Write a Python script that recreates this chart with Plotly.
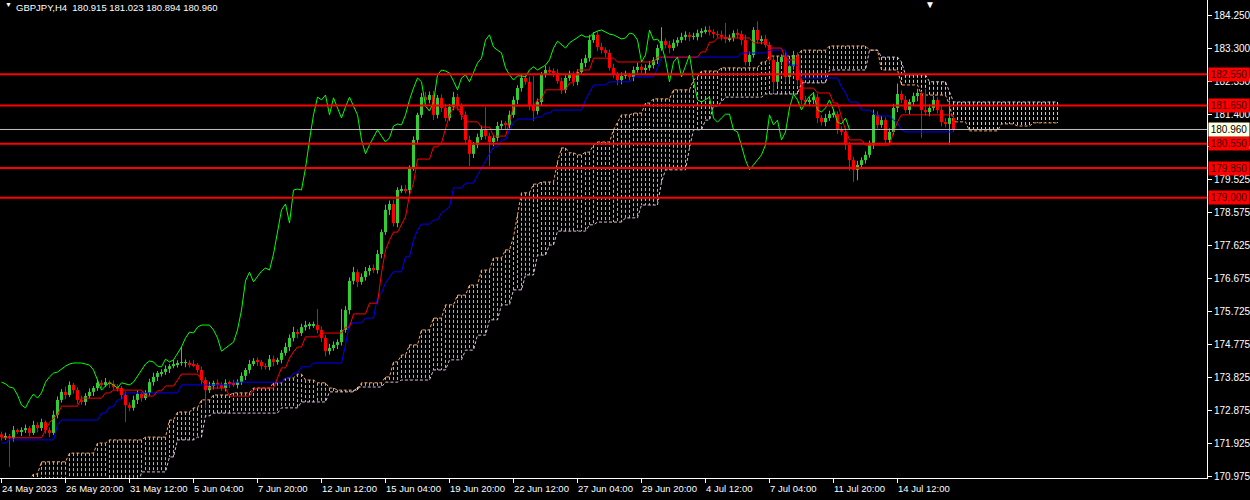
import plotly.graph_objects as go

# ---------------- data ----------------
closes = [
172.12,172.15,172.09,172.32,172.27,172.32,172.38,172.24,172.47,172.38,
172.55,172.32,172.24,172.76,173.19,173.42,173.33,173.62,173.47,173.19,
173.13,173.30,173.42,173.53,173.68,173.62,173.70,173.65,173.56,173.53,
173.33,173.04,172.96,173.19,173.36,173.24,173.39,173.70,173.85,173.96,
173.99,174.08,174.16,174.22,174.25,174.25,174.25,174.22,174.19,174.05,
173.76,173.47,173.59,173.68,173.62,173.53,173.68,173.65,173.62,173.70,
173.88,174.05,174.22,174.31,174.28,174.16,174.14,174.36,174.28,174.34,
174.54,174.71,174.97,175.14,175.11,175.28,175.34,175.34,175.34,175.20,
174.97,174.59,174.68,174.77,174.85,175.20,175.77,176.61,176.86,176.58,
176.72,176.89,176.98,176.92,177.38,178.01,178.65,178.82,178.27,179.22,
179.25,179.22,179.85,180.66,181.38,181.89,181.81,181.95,181.38,181.87,
181.58,181.29,181.61,181.89,181.63,181.38,180.66,180.26,180.52,180.74,
180.95,180.77,180.60,180.72,181.06,181.12,181.09,181.38,181.81,182.15,
182.44,182.33,181.63,181.49,181.75,182.53,182.67,182.64,182.58,182.35,
182.10,182.44,182.53,182.33,182.61,182.87,183.01,183.53,183.68,183.33,
183.24,183.16,182.73,182.53,182.38,182.50,182.50,182.47,182.67,182.76,
182.67,182.73,182.81,182.96,183.30,183.50,183.39,183.30,183.45,183.53,
183.62,183.68,183.62,183.62,183.73,183.79,183.82,183.76,183.70,183.68,
183.62,183.56,183.59,183.73,183.70,183.53,182.90,183.10,183.82,183.53,
183.56,183.39,182.96,182.33,182.90,183.04,182.47,182.78,183.10,182.38,
181.81,181.75,181.81,181.89,181.29,181.17,181.29,181.40,181.40,180.95,
180.89,180.52,180.08,179.80,179.94,180.08,180.23,180.52,181.38,181.09,
181.23,180.66,180.89,181.58,181.98,181.81,181.52,181.75,181.92,182.01,
181.52,181.46,181.58,181.81,181.52,181.17,181.12,181.29,180.96]
first_open = 172.20

wick_up = [
0.08,0.10,0.06,0.12,0.05,0.08,0.10,0.06,0.12,0.08,
0.10,0.05,0.08,0.12,0.10,0.08,0.15,0.10,0.06,0.08,
0.12,0.08,0.10,0.06,0.10,0.08,0.12,0.05,0.10,0.08,
0.06,0.10,0.08,0.12,0.10,0.05,0.08,0.10,0.12,0.06,
0.08,0.10,0.06,0.12,0.08,0.46,0.10,0.08,0.12,0.06,
0.10,0.08,0.12,0.06,0.10,0.08,0.10,0.06,0.12,0.08,
0.10,0.06,0.12,0.08,0.10,0.06,0.08,0.12,0.10,0.06,
0.08,0.12,0.10,0.15,0.08,0.10,0.12,0.08,0.10,0.46,
0.10,0.08,0.12,0.10,0.08,0.60,0.12,0.10,0.15,0.08,
0.10,0.12,0.08,0.10,0.12,0.08,0.15,0.10,0.12,0.08,
0.10,0.12,0.08,0.10,0.06,0.12,0.15,0.10,0.12,0.08,
0.10,0.12,0.08,0.15,0.10,0.08,0.10,0.12,0.08,0.10,
0.12,0.65,0.10,0.08,0.12,0.10,0.08,0.12,0.10,0.08,
0.10,0.12,0.15,0.87,0.10,0.08,0.12,0.10,0.08,0.12,
0.10,0.08,0.12,0.10,0.08,0.12,0.10,0.15,0.08,0.10,
0.12,0.08,0.10,0.12,0.08,0.10,0.15,0.08,0.10,0.12,
0.08,0.10,0.12,0.08,0.10,0.40,0.08,0.12,0.10,0.08,
0.12,0.10,0.08,0.12,0.10,0.08,0.10,0.12,0.08,0.10,
0.12,0.40,0.10,0.08,0.12,0.10,0.15,0.10,0.08,0.25,
0.10,0.12,0.08,0.10,0.12,0.08,0.15,0.10,0.12,0.08,
0.10,0.12,0.08,0.15,0.10,0.08,0.12,0.10,0.15,0.08,
0.10,0.12,0.08,0.10,0.12,0.08,0.10,0.12,0.15,0.10,
0.12,0.08,0.10,0.12,0.30,0.10,0.12,0.08,0.10,0.12,
0.05,0.60,0.10,0.12,0.08,0.10,0.12,0.50,0.06]

wick_dn = [
0.10,0.08,0.83,0.10,0.06,0.12,0.08,0.10,0.06,0.12,
0.08,0.10,0.12,0.06,0.10,0.08,0.12,0.06,0.10,0.12,
0.08,0.10,0.06,0.12,0.08,0.10,0.06,0.12,0.08,0.10,
0.12,0.49,0.10,0.08,0.12,0.10,0.06,0.08,0.10,0.12,
0.10,0.08,0.12,0.06,0.10,0.08,0.12,0.10,0.06,0.08,
0.12,0.52,0.08,0.10,0.12,0.08,0.10,0.12,0.06,0.10,
0.08,0.12,0.10,0.06,0.12,0.10,0.08,0.10,0.12,0.08,
0.10,0.08,0.12,0.10,0.15,0.08,0.10,0.12,0.08,0.10,
0.12,0.15,0.10,0.08,0.12,0.10,0.08,0.12,0.10,0.15,
0.08,0.10,0.12,0.08,0.10,0.12,0.08,0.15,0.10,0.12,
0.08,0.10,0.12,0.08,0.10,0.08,0.12,0.10,0.15,0.10,
0.12,0.10,0.08,0.10,0.12,0.15,0.10,0.36,0.12,0.10,
0.08,0.10,0.70,0.12,0.10,0.08,0.12,0.10,0.08,0.12,
0.10,0.08,0.12,0.29,0.10,0.12,0.08,0.10,0.12,0.08,
0.12,0.10,0.08,0.12,0.10,0.08,0.12,0.10,0.08,0.12,
0.10,0.12,0.08,0.10,0.15,0.12,0.08,0.10,0.12,0.08,
0.10,0.12,0.08,0.10,0.12,0.08,0.10,0.15,0.08,0.10,
0.08,0.10,0.12,0.08,0.10,0.12,0.08,0.10,0.12,0.08,
0.10,0.12,0.08,0.10,0.12,0.15,0.10,0.12,0.08,0.10,
0.12,0.08,0.10,0.33,0.12,0.10,0.15,0.12,0.10,0.15,
0.12,0.10,0.08,0.12,0.15,0.10,0.12,0.08,0.10,0.12,
0.10,0.15,0.30,0.35,0.30,0.12,0.10,0.08,0.12,0.10,
0.08,0.12,0.10,0.08,0.12,0.10,0.08,0.12,0.10,0.15,
0.80,0.10,0.12,0.08,0.10,0.12,0.10,0.60,0.06]

tenkan = [
172.10,172.10,172.10,172.10,172.10,172.10,172.10,172.10,172.10,172.10,
172.10,172.33,172.53,172.67,172.76,173.01,173.01,173.01,173.01,173.01,
173.24,173.24,173.24,173.24,173.24,173.24,173.39,173.39,173.47,173.47,
173.47,173.47,173.47,173.47,173.47,173.47,173.30,173.30,173.30,173.45,
173.45,173.59,173.59,173.59,173.76,173.93,173.93,173.93,173.93,173.93,
173.76,173.62,173.53,173.53,173.53,173.53,173.53,173.30,173.30,173.30,
173.30,173.30,173.30,173.47,173.53,173.53,173.53,173.53,173.53,173.82,
174.11,174.11,174.39,174.57,174.71,174.71,175.00,175.00,175.00,175.00,
175.11,175.11,175.11,175.11,175.11,175.11,175.28,175.28,175.66,175.66,
175.66,175.66,175.97,175.97,175.97,176.84,177.50,177.78,178.01,178.01,
178.22,178.45,179.08,179.42,180.11,180.11,180.11,180.11,180.46,180.46,
180.57,180.95,181.38,181.58,181.58,181.38,181.18,181.18,181.18,181.18,
181.03,181.03,181.03,180.77,180.77,180.77,180.77,181.18,181.64,181.64,
181.64,181.64,181.64,181.64,181.81,181.81,182.10,182.10,182.10,182.10,
182.10,182.10,182.30,182.30,182.67,182.67,182.67,182.67,183.01,183.01,
183.01,183.01,183.01,183.01,182.90,182.90,182.90,182.90,182.90,182.90,
182.90,182.90,182.90,182.90,183.04,183.04,183.04,183.04,183.04,183.04,
183.04,183.04,183.04,183.04,183.04,183.19,183.19,183.47,183.47,183.59,
183.59,183.59,183.59,183.59,183.59,183.59,183.59,183.59,183.45,183.45,
183.45,183.45,183.30,183.30,183.30,183.30,182.96,182.96,182.96,182.96,
182.15,182.15,182.15,182.15,182.01,182.01,182.01,182.01,181.72,181.72,
181.32,180.95,180.66,180.66,180.66,180.66,180.51,180.51,180.51,180.51,
180.51,180.51,180.51,180.89,181.18,181.38,181.38,181.38,181.38,181.38,
181.38,181.38,181.38,181.38,181.38,181.38,181.38,181.38,181.38]

kijun = [
171.95,171.95,172.04,172.04,172.04,172.04,172.04,172.04,172.04,172.04,
172.04,172.04,172.04,172.04,172.47,172.61,172.61,172.61,172.61,172.61,
172.61,172.61,172.61,172.61,172.61,172.81,172.81,172.99,172.99,173.19,
173.19,173.39,173.39,173.39,173.39,173.39,173.39,173.39,173.39,173.39,
173.39,173.39,173.39,173.39,173.39,173.62,173.62,173.62,173.62,173.62,
173.62,173.62,173.62,173.62,173.62,173.62,173.62,173.62,173.70,173.70,
173.70,173.70,173.70,173.70,173.70,173.70,173.70,173.70,173.70,173.70,
173.70,173.82,173.82,173.96,173.96,174.14,174.14,174.14,174.25,174.25,
174.25,174.25,174.25,174.25,174.25,174.25,174.77,175.40,175.40,175.40,
175.40,175.54,175.54,175.54,176.15,176.26,176.55,176.72,176.87,176.87,
176.87,177.30,177.30,177.78,178.07,178.24,178.24,178.24,178.36,178.36,
178.56,178.65,178.73,179.28,179.28,179.28,179.42,179.42,179.42,179.65,
179.85,180.08,180.28,180.46,180.46,180.66,180.66,180.95,181.15,181.26,
181.26,181.26,181.26,181.26,181.32,181.32,181.43,181.43,181.52,181.52,
181.52,181.52,181.52,181.52,181.52,181.52,181.81,182.01,182.24,182.24,
182.24,182.24,182.33,182.33,182.33,182.33,182.33,182.33,182.47,182.47,
182.47,182.47,182.47,182.47,182.73,183.04,183.04,183.04,183.04,183.04,
183.04,183.04,183.04,183.04,183.04,183.04,183.04,183.04,183.04,183.04,
183.04,183.04,183.04,183.04,183.04,183.16,183.16,183.16,183.16,183.16,
183.16,183.16,183.24,183.24,183.24,183.24,183.24,182.81,182.81,182.81,
182.44,182.44,182.44,182.44,182.44,182.44,182.44,182.44,182.44,182.44,
182.18,182.01,181.75,181.75,181.75,181.52,181.52,181.52,181.43,181.35,
181.35,181.35,181.35,181.23,181.15,180.95,180.89,180.89,180.89,180.89,
180.89,180.89,180.89,180.89,180.89,180.89,180.89,180.89,180.89]

span_a = [
170.74,170.74,170.74,170.74,170.74,170.74,170.89,170.89,171.06,171.06,
171.41,171.41,171.41,171.41,171.41,171.41,171.41,171.66,171.66,171.66,
171.66,171.66,171.66,171.66,171.95,171.95,171.95,172.04,172.04,172.04,
172.04,172.04,172.04,172.04,172.04,172.04,172.12,172.12,172.12,172.12,
172.12,172.12,172.61,172.61,172.84,172.84,172.84,172.84,172.96,172.96,
173.19,173.19,173.19,173.33,173.33,173.33,173.33,173.33,173.39,173.39,
173.39,173.39,173.39,173.53,173.53,173.53,173.53,173.53,173.68,173.68,
173.68,173.82,173.82,173.82,173.93,173.93,173.76,173.76,173.76,173.68,
173.68,173.68,173.53,173.53,173.47,173.47,173.47,173.47,173.47,173.47,
173.68,173.68,173.68,173.68,173.68,173.68,173.85,173.85,174.28,174.28,
174.48,174.48,174.77,174.77,174.77,175.20,175.20,175.20,175.54,175.54,
175.54,175.92,175.92,175.92,176.20,176.20,176.20,176.49,176.49,176.49,
176.92,176.92,176.92,177.27,177.27,177.27,177.50,177.50,177.87,178.50,
179.14,179.14,179.14,179.39,179.39,179.45,179.45,179.45,179.45,180.03,
180.43,180.43,180.29,180.29,180.23,180.23,180.31,180.31,180.51,180.60,
180.60,180.60,180.60,180.95,181.15,181.38,181.38,181.38,181.43,181.43,
181.43,181.72,181.72,181.84,181.84,181.84,181.84,181.84,182.10,182.10,
182.10,182.10,182.10,182.38,182.47,182.64,182.64,182.64,182.64,182.64,
182.73,182.73,182.73,182.73,182.73,182.73,182.73,182.73,182.73,182.73,
182.90,182.90,183.07,183.07,183.07,183.07,183.07,183.07,183.07,183.07,
183.24,183.24,183.24,183.24,183.24,183.24,183.24,183.36,183.36,183.36,
183.36,183.36,183.36,183.36,183.36,183.36,183.36,183.24,183.24,183.24,
182.67,182.67,182.67,182.67,182.67,182.24,182.24,182.24,182.24,182.24,
181.95,181.95,181.95,181.95,181.95,181.95,181.95,181.66,181.18,181.18,
181.18,181.18,180.92,180.92,180.92,180.92,180.92,180.92,180.92,180.92,
181.12,181.12,181.12,181.12,181.06,181.06,181.06,181.06,181.15,181.15,
181.15,181.15,181.15,181.15,181.15]

span_b = [
170.60,170.60,170.60,170.60,170.60,170.60,170.60,170.60,170.60,170.60,
170.60,170.60,170.60,170.60,170.60,170.60,170.60,170.60,170.60,170.60,
170.60,170.60,170.60,170.60,170.60,170.60,170.60,170.60,170.60,170.60,
170.60,170.60,170.60,170.60,170.60,171.12,171.12,171.12,171.12,171.12,
171.12,171.12,171.55,171.55,172.04,172.04,172.04,172.04,172.04,172.12,
172.12,172.73,172.73,172.81,172.81,172.81,172.81,172.81,172.81,172.81,
172.81,172.81,172.81,172.81,172.81,172.81,172.81,172.81,172.81,172.81,
172.96,172.96,172.96,172.96,172.96,173.13,173.13,173.13,173.13,173.13,
173.13,173.13,173.42,173.42,173.42,173.42,173.42,173.42,173.42,173.56,
173.56,173.56,173.56,173.56,173.56,173.56,173.70,173.70,173.70,173.70,
173.76,173.76,173.76,173.76,173.76,173.76,173.76,173.76,174.05,174.05,
174.05,174.05,174.34,174.34,174.34,174.34,174.62,174.62,174.62,175.05,
175.05,175.05,175.49,175.49,175.49,175.92,175.92,175.92,176.35,176.35,
176.35,176.78,176.78,176.78,177.35,177.35,177.35,177.64,177.64,178.04,
178.04,178.04,178.04,178.04,178.04,178.04,178.04,178.22,178.22,178.30,
178.30,178.30,178.30,178.30,178.30,178.30,178.42,178.42,178.42,178.42,
178.79,178.79,178.79,178.79,178.79,179.45,179.80,179.80,179.80,179.80,
179.80,179.80,180.43,180.95,180.95,180.95,181.23,181.23,181.64,181.64,
181.75,181.89,181.89,181.89,181.89,181.89,181.89,181.89,181.89,181.89,
181.89,181.98,181.98,181.98,181.98,181.98,181.98,181.98,181.98,181.98,
182.30,182.30,182.30,182.30,182.30,182.30,182.30,182.67,182.67,182.67,
182.67,182.67,182.67,182.67,182.67,182.67,182.67,183.24,183.24,183.24,
183.04,183.04,183.04,183.04,183.04,182.90,182.53,182.53,182.53,182.53,
182.53,182.53,182.33,182.33,182.33,182.33,182.33,182.04,181.75,181.75,
181.75,181.75,181.75,181.75,181.75,181.75,181.75,181.75,181.75,181.75,
181.75,181.75,181.75,181.75,181.75,181.75,181.75,181.75,181.75,181.75,
181.75,181.75,181.75,181.75,181.75]

levels = [182.55, 181.65, 180.55, 179.85, 179.00]
last_price = 180.96
y_ticks = [184.25, 183.30, 182.35, 181.40, 180.475, 179.525, 178.575, 177.625,
           176.675, 175.725, 174.775, 173.825, 172.875, 171.925, 170.975]
x_tick_bars = [0, 16, 32, 48, 64, 80, 96, 112, 128, 144, 160, 176, 192, 208, 224]
x_tick_labels = ["24 May 2023", "26 May 20:00", "31 May 12:00", "5 Jun 04:00",
                 "7 Jun 20:00", "12 Jun 12:00", "15 Jun 04:00", "19 Jun 20:00",
                 "22 Jun 12:00", "27 Jun 04:00", "29 Jun 20:00", "4 Jul 12:00",
                 "7 Jul 04:00", "11 Jul 20:00", "14 Jul 12:00"]
title_text = "GBPJPY,H4  180.915 181.023 180.894 180.960"
chikou_shift = 26

# ---------------- styling ----------------
BULL = "#32cd32"
BEAR = "#ff0000"
CHIKOU = "#00ff00"
TENKAN = "#ff0000"
KIJUN = "#0000ff"
SPAN_A = "#f4a460"
SPAN_B = "#d8bfd8"
FONT = "Liberation Sans, Arial, sans-serif"

n = len(closes)
bars = list(range(n))
opens = [first_open] + closes[:-1]
highs = [max(o, c) + u for o, c, u in zip(opens, closes, wick_up)]
lows = [min(o, c) - d for o, c, d in zip(opens, closes, wick_dn)]

fig = go.Figure()

# cloud hatching: one dotted vertical stroke per bar between the two spans
up_x, up_y, dn_x, dn_y = [], [], [], []
for i in range(len(span_a)):
    top = max(span_a[i], span_b[i])
    bot = min(span_a[i], span_b[i])
    if span_a[i] >= span_b[i]:
        up_x.extend([i, i, None]); up_y.extend([top, bot, None])
    else:
        dn_x.extend([i, i, None]); dn_y.extend([top, bot, None])
fig.add_trace(go.Scatter(x=up_x, y=up_y, mode="lines", connectgaps=False,
                         line=dict(color=SPAN_A, width=1, dash="3px,2px", simplify=False),
                         hoverinfo="skip"))
fig.add_trace(go.Scatter(x=dn_x, y=dn_y, mode="lines", connectgaps=False,
                         line=dict(color=SPAN_B, width=1, dash="3px,2px", simplify=False),
                         hoverinfo="skip"))
span_x = list(range(len(span_a)))
fig.add_trace(go.Scatter(x=span_x, y=span_a, mode="lines",
                         line=dict(color=SPAN_A, width=1, dash="3px,2px"), hoverinfo="skip"))
fig.add_trace(go.Scatter(x=span_x, y=span_b, mode="lines",
                         line=dict(color=SPAN_B, width=1, dash="3px,2px"), hoverinfo="skip"))

# candle wicks
for up_flag, col in ((True, BULL), (False, BEAR)):
    wx, wy = [], []
    for i in bars:
        if (closes[i] >= opens[i]) == up_flag:
            wx.extend([i, i, None]); wy.extend([lows[i], highs[i], None])
    fig.add_trace(go.Scatter(x=wx, y=wy, mode="lines", connectgaps=False,
                             line=dict(color=col, width=1), hoverinfo="skip"))

# candle bodies
for up_flag, col in ((True, BULL), (False, BEAR)):
    bx = [i for i in bars if (closes[i] >= opens[i]) == up_flag]
    base = [min(opens[i], closes[i]) for i in bx]
    hgt = [max(abs(closes[i] - opens[i]), 0.012) for i in bx]
    fig.add_trace(go.Bar(x=bx, y=hgt, base=base, width=0.75,
                         marker=dict(color=col, line=dict(width=0)), hoverinfo="skip"))

# ichimoku lines
fig.add_trace(go.Scatter(x=bars, y=kijun, mode="lines", line=dict(color=KIJUN, width=1), hoverinfo="skip"))
fig.add_trace(go.Scatter(x=bars, y=tenkan, mode="lines", line=dict(color=TENKAN, width=1), hoverinfo="skip"))
fig.add_trace(go.Scatter(x=[i - chikou_shift for i in bars[chikou_shift:]], y=closes[chikou_shift:],
                         mode="lines", line=dict(color=CHIKOU, width=1), hoverinfo="skip"))

# horizontal levels
shapes = []
for lv in levels:
    shapes.append(dict(type="line", xref="x domain", x0=0, x1=1, yref="y", y0=lv, y1=lv,
                       line=dict(color="#ff0000", width=2)))
shapes.append(dict(type="line", xref="x domain", x0=0, x1=1, yref="y", y0=last_price, y1=last_price,
                   line=dict(color="#c0c0c0", width=1)))

annotations = []
for lv in levels:
    annotations.append(dict(xref="x domain", x=1, xanchor="left", xshift=1, yref="y", y=lv,
                            text=f"{lv:.3f}", showarrow=False, bgcolor="#ff0000", width=40, height=13,
                            borderpad=0, font=dict(family=FONT, size=10, color="#3a0000")))
annotations.append(dict(xref="x domain", x=1, xanchor="left", xshift=1, yref="y", y=last_price,
                        text=f"{last_price:.3f}", showarrow=False, bgcolor="#ffffe4", width=40, height=13,
                        borderpad=0, font=dict(family=FONT, size=10, color="#000000")))
for b, lab in zip(x_tick_bars, x_tick_labels):
    annotations.append(dict(xref="x", x=b, xanchor="left", xshift=-2, yref="paper", y=0,
                            yanchor="top", yshift=-3, text=lab, showarrow=False,
                            font=dict(family=FONT, size=9.5, color="#ffffff")))
annotations.append(dict(xref="paper", x=15 / 1250, xanchor="left", yref="paper", y=1, yanchor="top",
                        yshift=0, text=title_text, showarrow=False,
                        font=dict(family=FONT, size=9.5, color="#ffffff")))
annotations.append(dict(xref="paper", x=3 / 1250, xanchor="left", yref="paper", y=1, yanchor="top",
                        yshift=1, text="\u25bc", showarrow=False,
                        font=dict(family=FONT, size=7, color="#ffffff")))
annotations.append(dict(xref="paper", x=963 / 1250, xanchor="center", yref="paper", y=1, yanchor="top",
                        yshift=3, text="\u25bc", showarrow=False,
                        font=dict(family=FONT, size=10, color="#ffffff")))

fig.update_layout(
    width=1250, height=500,
    margin=dict(l=0, r=43, t=0, b=22, pad=0),
    paper_bgcolor="#000000", plot_bgcolor="#000000",
    showlegend=False, barmode="overlay", hovermode=False,
    shapes=shapes, annotations=annotations,
    xaxis=dict(range=[-0.375, 301.375], showgrid=False, zeroline=False,
               showline=True, linecolor="#ffffff", linewidth=1,
               tickmode="array", tickvals=x_tick_bars, ticktext=[""] * len(x_tick_bars),
               ticks="outside", ticklen=4, tickcolor="#ffffff", tickwidth=1),
    yaxis=dict(range=[170.945, 184.681], side="right", showgrid=False, zeroline=False,
               showline=True, linecolor="#ffffff", linewidth=1,
               tickmode="array", tickvals=y_ticks, ticktext=[f"{t:.3f}" for t in y_ticks],
               ticks="outside", ticklen=4, tickcolor="#ffffff", tickwidth=1,
               tickfont=dict(family=FONT, size=10, color="#ffffff")),
)

fig.write_html("out.html", config={"displayModeBar": False},
               post_script="document.body.style.margin='0';document.body.style.padding='0';")
